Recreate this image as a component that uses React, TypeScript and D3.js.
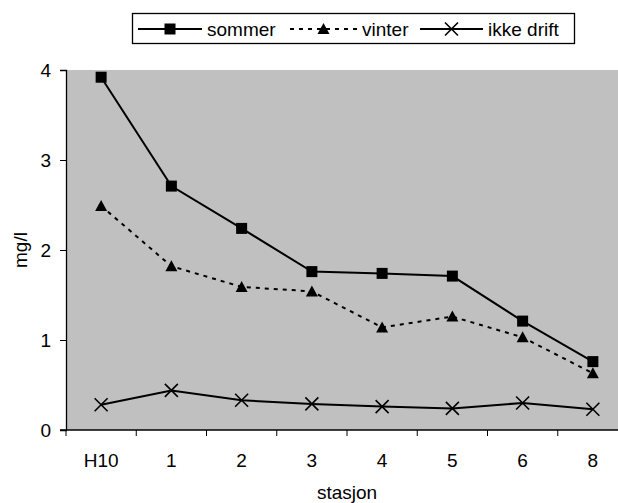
import React, { useEffect, useRef } from 'react';
import * as d3 from 'd3';

const stations = ['H10', '1', '2', '3', '4', '5', '6', '8'];
const sommer = [3.92, 2.71, 2.24, 1.76, 1.74, 1.71, 1.21, 0.76];
const vinter = [2.49, 1.82, 1.59, 1.54, 1.14, 1.26, 1.03, 0.63];
const ikkeDrift = [0.28, 0.44, 0.33, 0.29, 0.26, 0.24, 0.30, 0.23];
const yTicks = [0, 1, 2, 3, 4];

const App = () => {
    const ref = useRef<SVGSVGElement>(null);

    useEffect(() => {
        const svg = d3.select(ref.current);
        svg.selectAll('*').remove();

        const width = 618;
        const height = 503;
        const left = 66;
        const right = 628;
        const top = 70;
        const bottom = 430;
        const font = 'Liberation Sans, Arial, sans-serif';
        const fs = 19;

        const x = d3.scaleBand().domain(stations).range([left, right]).padding(0);
        const y = d3.scaleLinear().domain([0, 4]).range([bottom, top]);
        const cx = (d: string) => (x(d) as number) + x.bandwidth() / 2;

        svg.attr('width', width).attr('height', height);

        // plot background
        svg.append('rect')
            .attr('x', left).attr('y', top)
            .attr('width', right - left).attr('height', bottom - top)
            .attr('fill', '#c0c0c0');

        // y axis
        const yAxis = svg.append('g')
            .attr('transform', `translate(${left},0)`)
            .call(d3.axisLeft(y).tickValues(yTicks).tickSize(6).tickPadding(9).tickFormat(d3.format('d')));
        yAxis.select('.domain').attr('stroke', '#000').attr('stroke-width', 1.3);
        yAxis.selectAll('.tick line').attr('stroke', '#000');
        yAxis.selectAll('text').attr('font-family', font).attr('font-size', fs).attr('fill', '#000');

        // x axis
        const xAxis = svg.append('g')
            .attr('transform', `translate(0,${bottom})`);
        xAxis.append('line')
            .attr('x1', left - 6).attr('x2', right)
            .attr('stroke', '#000').attr('stroke-width', 1.3);
        xAxis.selectAll('line.tk')
            .data(stations)
            .enter()
            .append('line')
            .attr('class', 'tk')
            .attr('x1', d => x(d) as number).attr('x2', d => x(d) as number)
            .attr('y1', 0).attr('y2', 6)
            .attr('stroke', '#000');
        xAxis.selectAll('text')
            .data(stations)
            .enter()
            .append('text')
            .attr('x', d => cx(d))
            .attr('y', 37)
            .attr('text-anchor', 'middle')
            .attr('font-family', font).attr('font-size', fs)
            .text(d => d);

        svg.append('text')
            .attr('x', (left + right) / 2).attr('y', 499)
            .attr('text-anchor', 'middle')
            .attr('font-family', font).attr('font-size', fs)
            .text('stasjon');

        svg.append('text')
            .attr('transform', `translate(27,${(top + bottom) / 2}) rotate(-90)`)
            .attr('text-anchor', 'middle')
            .attr('font-family', font).attr('font-size', fs)
            .text('mg/l');

        const series = [
            { name: 'sommer', values: sommer, dash: null, marker: 'square' },
            { name: 'vinter', values: vinter, dash: '4,5', marker: 'triangle' },
            { name: 'ikke drift', values: ikkeDrift, dash: null, marker: 'cross' },
        ];

        const line = d3.line<number>()
            .x((d, i) => cx(stations[i]))
            .y(d => y(d));

        const drawMarker = (g: any, kind: string, px: number, py: number) => {
            if (kind === 'square') {
                g.append('rect')
                    .attr('x', px - 5.5).attr('y', py - 5.5)
                    .attr('width', 11).attr('height', 11)
                    .attr('fill', '#000');
            } else if (kind === 'triangle') {
                g.append('path')
                    .attr('d', `M${px},${py - 6}L${px + 6},${py + 5}L${px - 6},${py + 5}Z`)
                    .attr('fill', '#000');
            } else {
                g.append('path')
                    .attr('d', `M${px - 6.5},${py - 6.5}L${px + 6.5},${py + 6.5}M${px + 6.5},${py - 6.5}L${px - 6.5},${py + 6.5}`)
                    .attr('stroke', '#000').attr('stroke-width', 1.6).attr('fill', 'none');
            }
        };

        series.forEach(s => {
            const g = svg.append('g');
            g.append('path')
                .datum(s.values)
                .attr('d', line)
                .attr('fill', 'none')
                .attr('stroke', '#000')
                .attr('stroke-width', 2)
                .attr('stroke-dasharray', s.dash);
            s.values.forEach((v, i) => drawMarker(g, s.marker, cx(stations[i]), y(v)));
        });

        // legend
        const legend = svg.append('g');
        legend.append('rect')
            .attr('x', 132.5).attr('y', 13.5)
            .attr('width', 442).attr('height', 30)
            .attr('fill', '#fff').attr('stroke', '#000').attr('stroke-width', 1.3);
        const items = [
            { x1: 138, x2: 202, tx: 207 },
            { x1: 290, x2: 357, tx: 362 },
            { x1: 420, x2: 483, tx: 488 },
        ];
        series.forEach((s, i) => {
            const it = items[i];
            const ly = 29;
            legend.append('line')
                .attr('x1', it.x1).attr('x2', it.x2)
                .attr('y1', ly).attr('y2', ly)
                .attr('stroke', '#000').attr('stroke-width', 2)
                .attr('stroke-dasharray', s.dash);
            drawMarker(legend, s.marker, (it.x1 + it.x2) / 2, ly);
            legend.append('text')
                .attr('x', it.tx).attr('y', ly + 7)
                .attr('font-family', font).attr('font-size', fs)
                .text(s.name);
        });
    }, []);

    return (
        <svg ref={ref} style={{ position: 'absolute', left: 0, top: 0 }}></svg>
    );
};

export default App;
